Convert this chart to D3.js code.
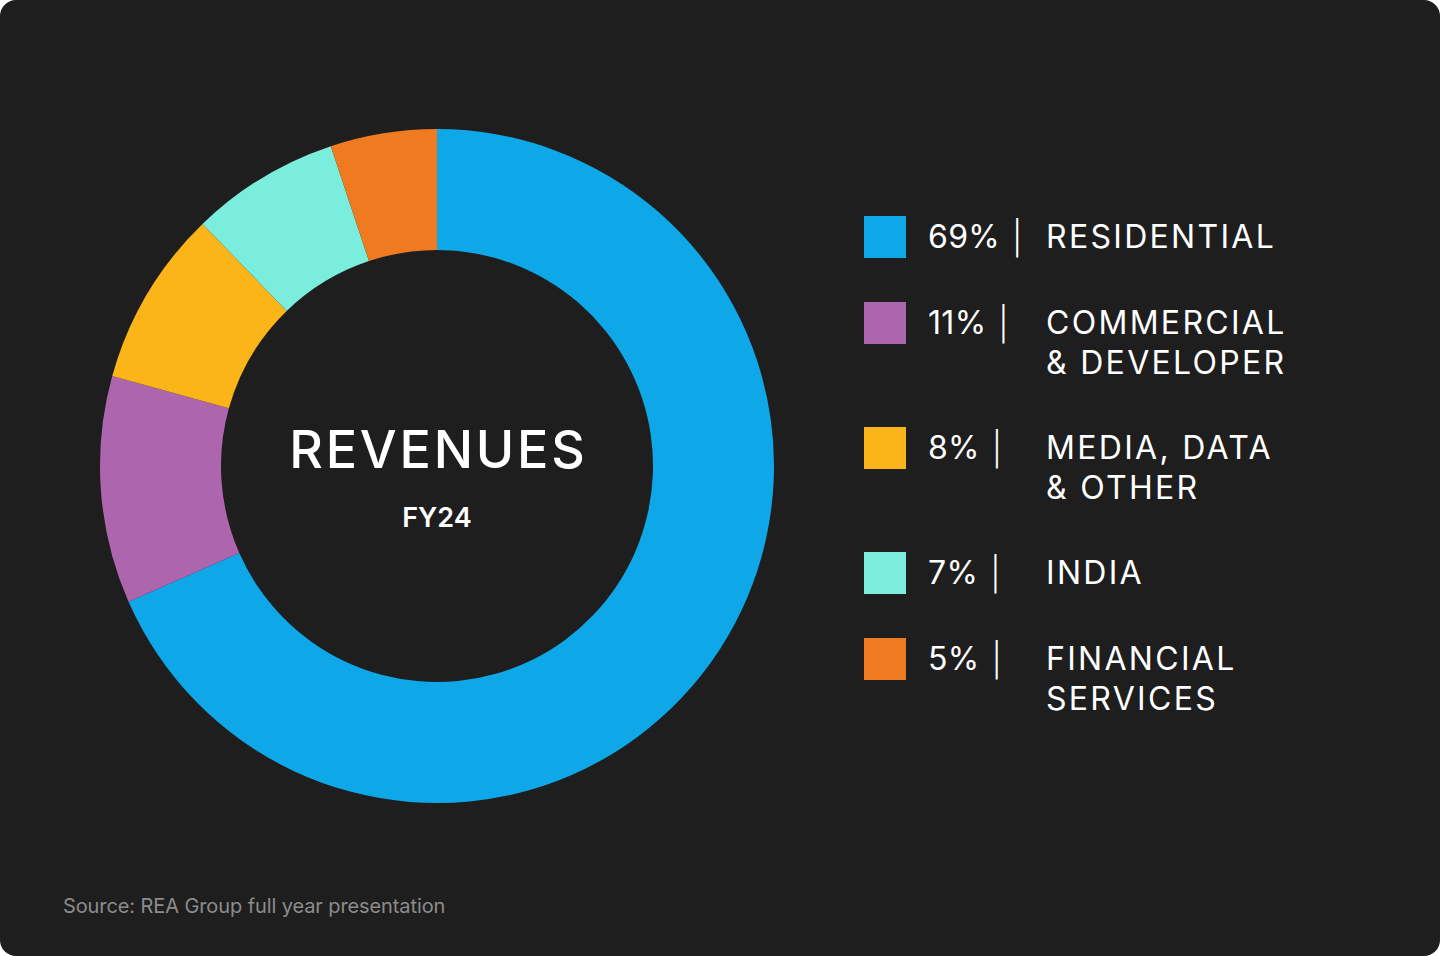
<!DOCTYPE html>
<html>
<head>
<meta charset="utf-8">
<script src="https://cdn.jsdelivr.net/npm/d3@7/dist/d3.min.js"></script>
<style>
  html, body { margin: 0; padding: 0; background: #ffffff; }
  svg { display: block; }
  text { font-family: Inter, "Open Sans", sans-serif; }
</style>
</head>
<body>
<svg id="chart" width="1440" height="956"></svg>
<script>
const categories = ["RESIDENTIAL", "COMMERCIAL\n& DEVELOPER", "MEDIA, DATA\n& OTHER", "INDIA", "FINANCIAL\nSERVICES"];
const values = [68.4, 10.9, 8.45, 7.15, 5.1];
const pctLabels = ["69%", "11%", "8%", "7%", "5%"];
const colors = ["#0ea7e8", "#ad66ad", "#fbb519", "#7aeddc", "#f07a20"];
const title = "REVENUES";
const subtitle = "FY24";
const source = "Source: REA Group full year presentation";

const svg = d3.select("#chart");
svg.append("rect").attr("x", 0).attr("y", 0).attr("width", 1440).attr("height", 956)
  .attr("rx", 16).attr("ry", 16).attr("fill", "#1e1e1e");

const cx = 437, cy = 466, rOuter = 337, rInner = 216;
const pie = d3.pie().sort(null).value(d => d);
const arc = d3.arc().innerRadius(rInner).outerRadius(rOuter);
const g = svg.append("g").attr("transform", `translate(${cx},${cy})`);
g.selectAll("path").data(pie(values)).join("path")
  .attr("d", arc).attr("fill", (d, i) => colors[i]);

g.append("text").attr("x", 1.4).attr("y", 468 - cy).attr("text-anchor", "middle")
  .attr("fill", "#ffffff").attr("font-size", 52).attr("font-weight", 500)
  .attr("letter-spacing", 2.8).text(title);
g.append("text").attr("x", 0).attr("y", 527 - cy).attr("text-anchor", "middle")
  .attr("fill", "#ffffff").attr("font-size", 27).attr("font-weight", 600)
  .text(subtitle);

const rowY = [237, 323, 448, 573, 659];
const legend = svg.append("g");
categories.forEach((c, i) => {
  const row = legend.append("g").attr("transform", `translate(0,${rowY[i]})`);
  row.append("rect").attr("x", 864).attr("y", -21).attr("width", 42).attr("height", 42)
    .attr("fill", colors[i]);
  const p = row.append("text").attr("x", 928).attr("y", 11).attr("fill", "#ffffff")
    .attr("font-size", 32).attr("letter-spacing", 0.3)
    .text(pctLabels[i]);
  const w = p.node().getComputedTextLength();
  row.append("text").attr("x", 928 + w + 12).attr("y", 13).attr("fill", "#ffffff")
    .attr("font-size", 33).attr("font-weight", 300).text("|");
  const t = row.append("text").attr("x", 1046).attr("y", 11).attr("fill", "#ffffff")
    .attr("font-size", 32).attr("letter-spacing", 2.3);
  c.split("\n").forEach((line, j) => {
    t.append("tspan").attr("x", 1046).attr("dy", j === 0 ? 0 : 40).text(line);
  });
});

svg.append("text").attr("x", 63).attr("y", 913).attr("fill", "#8c8c8c")
  .attr("font-size", 20).attr("letter-spacing", -0.1).text(source);
</script>
</body>
</html>
